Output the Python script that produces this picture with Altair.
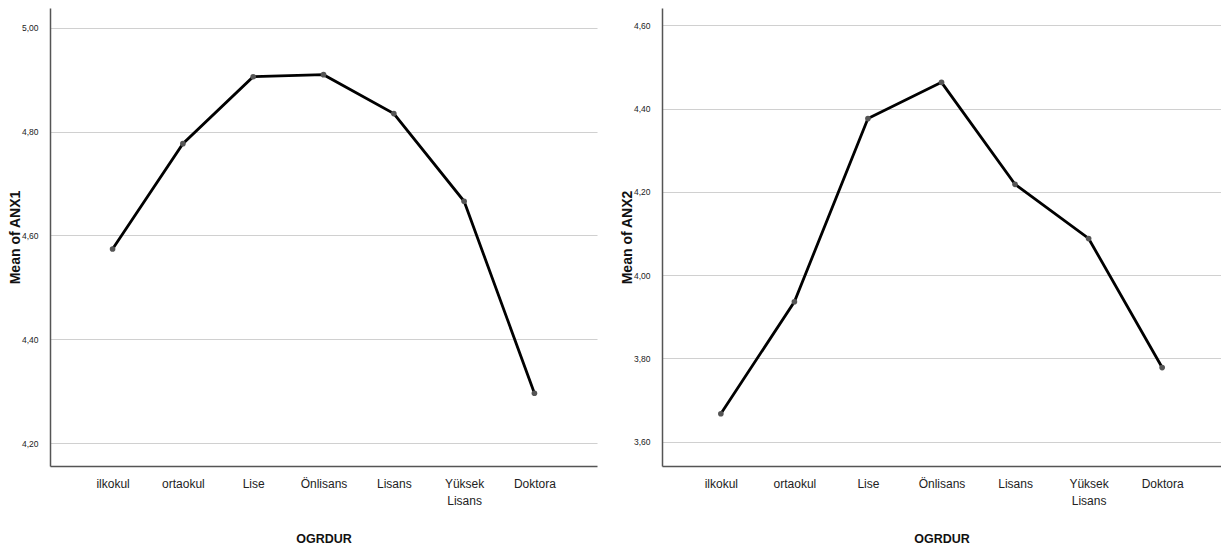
import altair as alt
import pandas as pd

categories = ["ilkokul", "ortaokul", "Lise", "Önlisans", "Lisans", "Yüksek Lisans", "Doktora"]
anx1_means = [4.574, 4.777, 4.906, 4.910, 4.835, 4.666, 4.296]
anx2_means = [3.667, 3.936, 4.376, 4.463, 4.218, 4.088, 3.778]
anx1_ticks = [4.2, 4.4, 4.6, 4.8, 5.0]
anx2_ticks = [3.6, 3.8, 4.0, 4.2, 4.4, 4.6]

FONT = "Liberation Sans Narrow, Liberation Sans, Arial, sans-serif"
label_expr_y = "replace(format(datum.value, '.2f'), '.', ',')"
label_expr_x = "datum.value == 'Yüksek Lisans' ? ['Yüksek', 'Lisans'] : datum.label"


def panel(values, ticks, domain, ytitle, width, pad):
    df = pd.DataFrame({"OGRDUR": categories, "mean": values})
    x = alt.X(
        "OGRDUR:N",
        sort=categories,
        scale=alt.Scale(padding=pad),
        axis=alt.Axis(
            title="OGRDUR",
            labelAngle=0,
            labelFont=FONT,
            labelFontSize=12,
            labelColor="#222",
            labelBaseline="top",
            labelPadding=12,
            labelLineHeight=17,
            labelExpr=label_expr_x,
            ticks=False,
            grid=False,
            domainColor="#555",
            domainWidth=1.5,
            titleFont=FONT,
            titleFontSize=12.5,
            titleFontWeight="bold",
            titleColor="#111",
            titleY=72,
            titleBaseline="middle",
        ),
    )
    y = alt.Y(
        "mean:Q",
        scale=alt.Scale(domain=domain, nice=False, zero=False),
        axis=alt.Axis(
            title=ytitle,
            values=ticks,
            labelExpr=label_expr_y,
            labelFont=FONT,
            labelFontSize=8.5,
            labelColor="#222",
            labelPadding=12,
            ticks=False,
            grid=True,
            gridColor="#d0d0d0",
            gridWidth=1.2,
            domainColor="#555",
            domainWidth=1.5,
            titleFont="Liberation Sans, Arial, sans-serif",
            titleFontSize=14,
            titleFontWeight="bold",
            titleColor="#111",
            titleX=-35,
            titleBaseline="middle",
        ),
    )
    base = alt.Chart(df).encode(x=x, y=y)
    line = base.mark_line(color="#000", strokeWidth=2.8)
    pts = base.mark_circle(color="#555", size=32, opacity=1)
    return (line + pts).properties(width=width, height=458)


left = panel(anx1_means, anx1_ticks, [4.1557, 5.0385], "Mean of ANX1", 547, 0.89)
right = panel(anx2_means, anx2_ticks, [3.5416, 4.6415], "Mean of ANX2", 559, 0.8)

chart = (
    alt.hconcat(left, right, spacing=23)
    .properties(padding=0, background="white")
    .configure_view(stroke=None)
)

chart.save("out.html", embed_options={"renderer": "svg", "actions": False})
